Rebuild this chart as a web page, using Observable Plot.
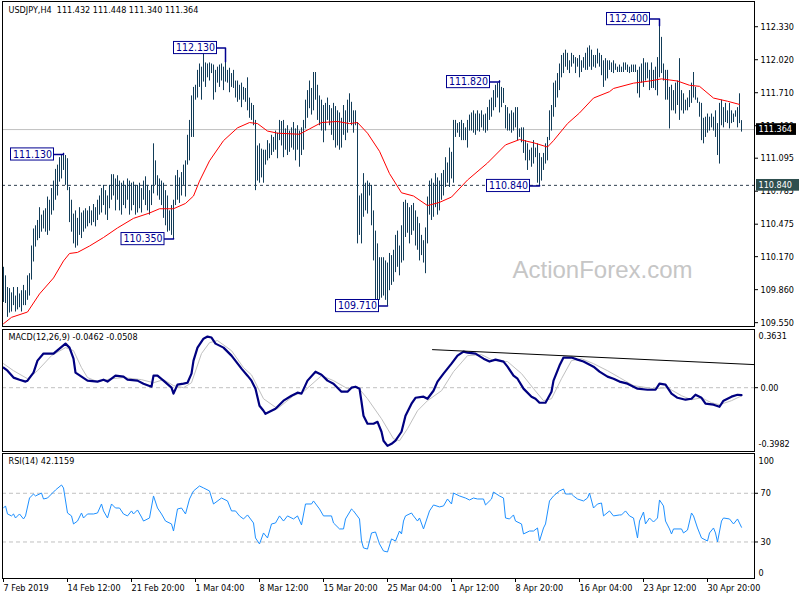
<!DOCTYPE html>
<html><head><meta charset="utf-8">
<script src="https://cdn.jsdelivr.net/npm/d3@7"></script>
<script src="https://cdn.jsdelivr.net/npm/@observablehq/plot@0.6"></script>
<style>
html,body{margin:0;padding:0;background:#fff;}
#wrap{position:relative;width:800px;height:600px;overflow:hidden;background:#fff;}
#wrap svg{position:absolute;left:0;top:0;}
</style></head><body><div id="wrap"></div>
<script>
// ---------- DATA ----------
const symbol = "USDJPY,H4";
const lastOHLC = [111.432, 111.448, 111.340, 111.364];
const lastPrice = 111.364;
const supportLevel = 110.840;

const barHigh = [
110.07,109.99,109.88,109.87,109.83,109.88,109.80,109.88,109.82,109.85,
109.90,109.85,109.99,110.01,110.27,110.43,110.46,110.51,110.63,110.56,
110.60,110.62,110.73,110.70,110.81,110.88,110.99,111.03,111.10,111.12,
111.14,111.12,111.09,110.82,110.70,110.57,110.60,110.53,110.63,110.58,
110.60,110.62,110.60,110.64,110.60,110.66,110.63,110.70,110.74,110.81,
110.84,110.79,110.74,110.84,110.94,110.94,110.90,110.93,110.88,110.86,
110.88,110.84,110.90,110.88,110.86,110.87,110.84,110.84,110.86,110.81,
110.88,110.92,110.84,110.79,110.84,111.23,111.07,110.93,110.90,110.88,
110.86,110.79,110.74,110.60,110.65,110.70,110.93,110.98,110.91,110.96,
111.03,111.07,111.31,111.45,111.68,111.76,111.78,111.92,111.98,111.95,
112.08,111.99,111.98,111.99,111.98,111.97,111.92,111.95,111.97,111.98,
111.95,112.00,111.92,111.94,111.89,111.92,111.82,111.82,111.78,111.80,
111.76,111.75,111.85,111.66,111.61,111.59,111.45,111.21,111.23,111.18,
111.17,111.17,111.26,111.23,111.31,111.29,111.35,111.33,111.45,111.44,
111.45,111.37,111.40,111.35,111.38,111.43,111.37,111.40,111.35,111.38,
111.45,111.64,111.73,111.82,111.75,111.90,111.90,111.78,111.68,111.64,
111.59,111.61,111.66,111.59,111.56,111.61,111.58,111.54,111.52,111.47,
111.59,111.54,111.64,111.70,111.62,111.54,111.54,111.43,110.74,110.76,
110.95,110.86,110.88,110.86,110.84,110.60,110.41,110.29,110.16,110.16,
110.16,110.13,110.11,110.20,110.18,110.23,110.37,110.41,110.27,110.46,
110.68,110.70,110.67,110.63,110.65,110.67,110.60,110.54,110.48,110.37,
110.32,110.44,110.73,110.88,110.90,110.86,110.95,110.91,110.88,110.95,
110.98,111.10,111.05,111.19,111.15,111.45,111.45,111.42,111.43,111.45,
111.42,111.38,111.45,111.50,111.52,111.54,111.51,111.54,111.51,111.54,
111.50,111.51,111.57,111.64,111.66,111.73,111.78,111.80,111.82,111.76,
111.75,111.59,111.57,111.51,111.54,111.52,111.57,111.57,111.37,111.38,
111.38,111.26,111.23,111.17,111.19,111.26,111.19,111.23,111.14,111.10,
111.14,111.23,111.29,111.54,111.59,111.80,111.82,111.89,111.98,112.06,
112.08,112.11,112.08,112.01,112.08,112.06,112.04,112.03,112.06,112.01,
112.04,112.08,112.13,112.15,112.11,112.06,112.06,112.12,112.08,112.06,
112.01,112.03,112.01,112.01,111.99,112.01,111.98,111.95,111.97,111.95,
111.99,111.99,111.97,111.95,111.97,111.97,111.97,111.92,111.95,111.98,
112.03,111.99,111.99,111.92,111.99,111.92,111.95,112.04,112.34,112.23,
111.98,111.92,111.92,111.76,111.78,111.73,111.80,111.82,112.03,111.73,
111.70,111.64,111.66,111.73,111.80,111.90,111.76,111.66,111.62,111.61,
111.47,111.48,111.51,111.48,111.51,111.48,111.54,111.42,111.61,111.64,
111.57,111.61,111.54,111.61,111.54,111.51,111.54,111.57,111.70,111.448];

const barLow = [
109.74,109.73,109.60,109.64,109.65,109.71,109.65,109.67,109.69,109.65,
109.71,109.71,109.76,109.80,109.95,110.12,110.26,110.32,110.34,110.40,
110.43,110.40,110.37,110.41,110.56,110.60,110.70,110.74,110.87,110.90,
110.98,110.84,110.79,110.49,110.40,110.29,110.25,110.27,110.37,110.34,
110.40,110.43,110.45,110.48,110.46,110.49,110.45,110.51,110.56,110.58,
110.65,110.56,110.51,110.62,110.70,110.74,110.60,110.70,110.60,110.56,
110.65,110.62,110.70,110.56,110.60,110.65,110.56,110.58,110.62,110.58,
110.70,110.65,110.60,110.56,110.65,110.76,110.84,110.74,110.70,110.65,
110.53,110.46,110.40,110.41,110.37,110.34,110.65,110.70,110.67,110.74,
110.84,110.73,111.03,111.07,111.29,111.29,111.64,111.66,111.76,111.64,
111.81,111.76,111.85,111.82,111.89,111.64,111.71,111.80,111.76,111.82,
111.73,111.81,111.80,111.71,111.76,111.75,111.66,111.62,111.64,111.57,
111.64,111.62,111.54,111.47,111.45,111.40,110.79,110.88,110.86,110.91,
110.86,111.03,111.07,111.09,111.12,111.15,111.17,111.09,111.26,111.21,
111.10,111.17,111.12,111.15,111.19,111.17,111.07,111.17,111.01,111.12,
111.17,111.37,111.47,111.56,111.50,111.54,111.64,111.45,111.40,111.35,
111.24,111.35,111.45,111.40,111.31,111.26,111.19,111.21,111.17,111.19,
111.31,111.26,111.33,111.43,111.40,111.33,111.40,110.29,110.37,110.29,
110.54,110.60,110.57,110.74,110.46,110.13,109.73,109.73,109.76,109.78,
109.80,109.76,109.71,109.85,109.90,109.93,110.02,110.07,109.99,110.11,
110.13,110.35,110.39,110.29,110.37,110.41,110.27,110.23,110.13,110.18,
110.11,110.01,110.29,110.56,110.51,110.54,110.63,110.56,110.60,110.70,
110.74,110.82,110.86,110.82,110.90,110.86,111.29,111.33,111.29,111.26,
111.26,111.26,111.19,111.35,111.35,111.33,111.31,111.35,111.34,111.38,
111.35,111.33,111.35,111.45,111.48,111.54,111.57,111.66,111.52,111.57,
111.61,111.37,111.35,111.35,111.33,111.35,111.38,111.26,111.29,111.24,
111.14,111.07,110.98,111.07,111.01,111.04,111.10,110.86,110.84,110.88,
110.98,111.04,111.07,111.26,111.35,111.48,111.57,111.66,111.73,111.85,
111.89,111.95,111.92,111.89,111.95,111.98,111.89,111.95,111.85,111.90,
111.94,111.92,111.92,111.95,111.92,111.95,111.94,111.98,111.95,111.87,
111.76,111.82,111.84,111.92,111.90,111.89,111.92,111.90,111.90,111.90,
111.90,111.92,111.90,111.89,111.90,111.90,111.90,111.70,111.66,111.80,
111.76,111.82,111.84,111.73,111.75,111.75,111.73,111.68,111.85,111.89,
111.82,111.64,111.64,111.37,111.54,111.54,111.51,111.59,111.45,111.54,
111.51,111.54,111.54,111.57,111.61,111.66,111.64,111.61,111.48,111.26,
111.23,111.29,111.33,111.35,111.38,111.35,111.29,111.12,111.04,111.40,
111.38,111.43,111.42,111.37,111.42,111.43,111.48,111.38,111.42,111.340];

// Moving average (red)
const maIdx = [0,4,12,18,25,30,33,37,43,50,57,65,73,78,85,91,95,98,103,110,
117,123,127,132,137,148,153,159,167,173,177,182,188,193,199,205,212,218,224,232,
242,251,258,265,272,275,282,288,295,303,305,315,323,329,337,343,348,355,362,368];
const maVal = [109.54,109.60,109.65,109.82,109.97,110.13,110.20,110.21,110.27,110.35,
110.44,110.53,110.58,110.62,110.62,110.67,110.74,110.88,111.07,111.26,
111.38,111.43,111.42,111.35,111.33,111.32,111.37,111.43,111.44,111.42,
111.43,111.33,111.16,110.95,110.77,110.74,110.65,110.68,110.73,110.89,
111.05,111.22,111.27,111.24,111.20,111.26,111.42,111.52,111.66,111.72,
111.75,111.80,111.82,111.84,111.82,111.78,111.77,111.66,111.63,111.60];

// MACD(12,26,9)
const macdIdx = [0,2,5,8,11,12,15,17,20,25,
28,31,33,35,36,39,42,47,50,52,
56,60,62,67,70,74,75,77,80,84,
85,87,90,92,94,95,97,100,102,104,
106,110,114,119,122,124,126,128,130,131,
134,136,140,144,147,149,152,156,159,162,
165,169,172,174,176,178,179,180,182,185,
187,189,190,192,194,196,199,201,204,206,
210,212,215,217,220,224,227,230,232,236,
240,243,246,250,252,255,257,260,264,266,
268,271,274,275,278,280,284,287,290,295,
298,302,305,308,312,317,322,326,328,331,
334,337,341,344,346,349,351,355,358,360,
364,367,369];
const macdVal = [0.125,0.106,0.063,0.05,0.038,0.044,0.094,0.169,0.213,0.213,
0.244,0.275,0.25,0.181,0.094,0.069,0.044,0.038,0.05,0.038,
0.075,0.069,0.05,0.044,0.025,0.006,0.075,0.075,0.044,0.0,
-0.037,0.019,0.025,0.031,0.088,0.169,0.25,0.306,0.319,0.313,
0.275,0.25,0.2,0.119,0.075,0.044,-0.006,-0.113,-0.144,-0.163,
-0.144,-0.131,-0.081,-0.05,-0.031,-0.037,0.044,0.1,0.081,0.044,
0.025,-0.025,-0.025,0.0,0.006,-0.006,-0.088,-0.175,-0.225,-0.225,
-0.213,-0.275,-0.331,-0.363,-0.35,-0.331,-0.275,-0.175,-0.1,-0.063,
-0.056,-0.069,-0.019,0.038,0.088,0.15,0.2,0.225,0.219,0.213,
0.181,0.163,0.175,0.163,0.131,0.075,0.056,-0.006,-0.056,-0.069,
-0.094,-0.094,-0.025,0.044,0.138,0.188,0.188,0.175,0.163,0.131,
0.1,0.069,0.056,0.038,0.025,-0.006,-0.013,-0.013,0.025,0.019,
-0.037,-0.063,-0.075,-0.069,-0.044,-0.063,-0.1,-0.106,-0.119,-0.081,
-0.056,-0.044,-0.0462];
const sigIdx = [0,5,12,17,24,31,35,39,42,47,
54,60,69,75,80,85,90,94,99,103,
107,114,120,124,128,130,137,145,150,159,
165,172,177,182,189,195,198,202,207,212,
219,225,232,239,245,252,259,265,270,274,
279,284,289,295,302,308,315,325,332,339,
344,349,354,358,364,369];
const sigVal = [0.15,0.106,0.056,0.106,0.2,0.25,0.231,0.125,0.063,0.038,
0.056,0.063,0.05,0.031,0.05,0.013,0.0,0.031,0.213,0.281,
0.294,0.231,0.125,0.08,-0.02,-0.069,-0.131,-0.05,-0.025,0.075,
0.044,-0.006,0.006,-0.069,-0.194,-0.319,-0.331,-0.256,-0.144,-0.081,
-0.019,0.1,0.2,0.206,0.169,0.163,0.088,-0.006,-0.081,-0.069,
0.056,0.169,0.181,0.15,0.106,0.063,0.013,-0.006,0.0,-0.05,
-0.075,-0.063,-0.094,-0.106,-0.081,-0.0508];
const macdRange = [-0.3982, 0.3631];
const macdTrendIdx = [214.5, 375.5];
const macdTrendVal = [0.2375, 0.144];

// RSI(14)
const rsiIdx = [0,1,2,4,5,6,8,10,11,13,
15,16,19,20,22,24,26,29,30,32,
34,35,37,39,40,42,45,47,49,50,
52,54,56,58,60,62,64,65,67,69,
70,73,75,77,79,81,84,85,87,89,
91,93,95,98,100,103,105,109,112,114,
116,118,120,122,125,126,128,130,132,134,
136,138,140,142,145,147,149,151,154,155,
158,160,164,165,168,170,171,174,175,178,
179,180,182,184,186,188,190,192,194,196,
198,199,200,201,204,205,207,208,210,213,
215,218,220,222,224,225,228,231,233,235,
237,240,241,244,245,248,250,251,253,255,
256,259,260,263,265,267,268,270,271,273,
275,278,280,281,284,285,287,290,292,293,
295,297,299,300,303,305,308,309,311,313,
315,316,317,318,320,321,323,325,327,328,
330,331,333,334,335,339,340,342,344,345,
347,349,352,353,355,356,357,359,360,363,
365,367,369];
const rsiVal = [57.9,59.6,53,51.4,53,49.7,53,48.9,51.4,66.1,
69.4,67.8,70.2,65.3,66.1,69.4,72.7,76.8,74.4,53.8,
51.4,44.8,47.2,53.8,49.7,53,53,53.8,61.2,55.5,
49.7,61.2,57.9,57.9,53,51.4,55.5,53,56.3,50.5,
47.2,49.7,67.8,57.9,53,47.2,44.8,39,57.1,57.9,
53,65.3,71.9,76,74.4,71.9,61.2,66.1,63.7,55.5,
55.5,51.4,48.9,52.2,45.6,33.3,28.4,37.4,33.3,44.8,
45.6,51.4,47.2,51.4,48.9,51.4,44,61.2,61.2,63.7,
57.1,51.4,51.4,45.6,40.7,40.7,48.9,57.1,55.5,48.9,
30.8,25.1,24.2,37.4,38.2,28.4,22.6,21.8,32.5,30.8,
39,36.6,47.2,51.4,53.8,51.4,47.2,49.7,40.7,55.5,
60.4,58.8,59.6,65.3,61.2,70.2,67.8,66.1,64.5,66.1,
65.3,65.3,60.4,65.3,71,67.8,66.1,49.7,48.9,52.2,
47.2,44.8,36.6,39,39,41.5,30.8,41.5,44.8,63.7,
67.8,71.9,73.5,69.4,69.4,67.8,65.3,63.7,66.1,70.2,
57.9,61.2,62,51.4,55.5,51.4,52.2,52.2,55.5,51.4,
49.7,41.5,33.3,47.2,54.6,44.8,49.7,46.4,49.7,64.5,
59.6,47.2,40.7,36.6,40.7,40.7,37.4,39.8,53.8,51.4,
41.5,33.3,30.8,37.4,41.5,37.4,30,47.2,49.7,48.9,
44.8,48.9,42.1];
const rsiLast = 42.1159;
const rsiLevels = [30, 70];

// Axes
const priceTicks = [112.330,112.020,111.710,111.400,111.095,110.785,110.475,110.170,109.860,109.550];
const tickIdx = [0,32,64,96,128,160,192,224,256,288,320,352];
const tickLabels = ["7 Feb 2019","14 Feb 12:00","21 Feb 20:00","1 Mar 04:00","8 Mar 12:00","15 Mar 20:00","25 Mar 04:00","1 Apr 12:00","8 Apr 20:00","16 Apr 04:00","23 Apr 12:00","30 Apr 20:00"];

// Annotations (swing highs / lows)
const annText  = ["111.130","110.350","112.130","109.710","111.820","110.840","112.400"];
const annIdx   = [14.5, 69.75, 96, 177, 232.5, 252.5, 312.5];
const annPrice = [111.13, 110.335, 112.13, 109.706, 111.81, 110.834, 112.402];
const annBar   = [30, 85, 111, 192, 248, 268, 328];
const annType  = ["high","low","high","low","high","low","high"];

// ---------- CHART ----------
const FONT = "'DejaVu Sans Condensed','DejaVu Sans',sans-serif";
const BAR = "#123c58";
const NAVY = "#000090";
const xDom = [-0.5, 375.5];
const base = {width: 800, height: 600, marginLeft: 2, marginRight: 46,
  style: {background: "transparent", fontFamily: FONT, fontSize: "9px", color: "black", overflow: "visible"}};

const bars = barHigh.map((h, i) => ({i, h, l: barLow[i]}));
const ma = maIdx.map((x, k) => ({x, y: maVal[k]}));
const BOX_HALF = 10.75, BOX_H = 0.057;
const boxes = annText.map((t, k) => ({t, cx: annIdx[k], p: annPrice[k]}));
const connectors = annText.flatMap((t, k) => {
  const end = annType[k] === "high" ? barHigh[annBar[k]] : barLow[annBar[k]];
  return [{k, x: annIdx[k] + BOX_HALF, y: annPrice[k]}, {k, x: annBar[k], y: annPrice[k]}, {k, x: annBar[k], y: end}];
});
const header = `${symbol}  ${lastOHLC.map(d => d.toFixed(3)).join(" ")}`;

const main = Plot.plot({...base,
  marginTop: 1, marginBottom: 274,
  x: {domain: xDom, axis: null},
  y: {domain: [109.514, 112.567], axis: null},
  marks: [
    Plot.text(["ActionForex.com"], {x: 299.5, y: 110.04, text: d => d, fontSize: 24, fontFamily: "'Liberation Sans',Arial,sans-serif", fill: "#c6c6c6"}),
    Plot.ruleY([lastPrice], {stroke: "#c0c0c0"}),
    Plot.ruleY([supportLevel], {stroke: "#2d3e4e", strokeDasharray: "3,3"}),
    Plot.ruleX(bars, {x: "i", y1: "l", y2: "h", stroke: BAR}),
    Plot.line(ma, {x: "x", y: "y", stroke: "#ff0000", strokeWidth: 1}),
    Plot.line(connectors, {x: "x", y: "y", z: "k", stroke: NAVY}),
    Plot.rect(boxes, {x1: d => d.cx - BOX_HALF, x2: d => d.cx + BOX_HALF, y1: d => d.p - BOX_H, y2: d => d.p + BOX_H, fill: "white", stroke: NAVY}),
    Plot.text(boxes, {x: "cx", y: "p", text: "t", fill: NAVY, fontSize: 10.5}),
    Plot.frame({stroke: "black"}),
    Plot.axisY(priceTicks, {anchor: "right", tickSize: 3, tickPadding: 3, tickFormat: d => d.toFixed(3), label: null}),
    Plot.rect([lastPrice], {x1: 376.5, x2: 396.5, y1: d => d - 0.055, y2: d => d + 0.055, fill: "black"}),
    Plot.text([lastPrice], {x: 377.5, y: d => d, text: d => d.toFixed(3), fill: "white", textAnchor: "start"}),
    Plot.rect([supportLevel], {x1: 376.5, x2: 398, y1: d => d - 0.055, y2: d => d + 0.055, fill: "#2f4f4f"}),
    Plot.text([supportLevel], {x: 377.5, y: d => d, text: d => d.toFixed(3), fill: "white", textAnchor: "start"}),
    Plot.text([header], {frameAnchor: "top-left", textAnchor: "start", lineAnchor: "top", dx: 6, dy: 5, text: d => d})
  ]
});

const macdLine = macdIdx.map((x, k) => ({x, y: macdVal[k]}));
const sigLine = sigIdx.map((x, k) => ({x, y: sigVal[k]}));
const trend = macdTrendIdx.map((x, k) => ({x, y: macdTrendVal[k]}));
const macdHeader = `MACD(12,26,9) ${macdVal[macdVal.length-1].toFixed(4)} ${sigVal[sigVal.length-1].toFixed(4)}`;

const macd = Plot.plot({...base,
  marginTop: 329, marginBottom: 149,
  x: {domain: xDom, axis: null},
  y: {domain: macdRange, axis: null},
  marks: [
    Plot.ruleY([0], {stroke: "#c0c0c0", strokeDasharray: "4,3"}),
    Plot.line(sigLine, {x: "x", y: "y", stroke: "#c0c0c0", strokeWidth: 1}),
    Plot.line(macdLine, {x: "x", y: "y", stroke: "#000080", strokeWidth: 2.2}),
    Plot.line(trend, {x: "x", y: "y", stroke: "black", strokeWidth: 1}),
    Plot.frame({stroke: "black"}),
    Plot.text([macdHeader], {frameAnchor: "top-left", textAnchor: "start", lineAnchor: "top", dx: 6, dy: 4, text: d => d}),
    Plot.axisY([0], {anchor: "right", tickSize: 3, tickPadding: 3, tickFormat: () => "0.00", label: null}),
    Plot.text([macdRange[1]], {x: 375.5, y: d => d, text: d => d.toFixed(4), dx: 4, dy: 7, textAnchor: "start"}),
    Plot.text([macdRange[0]], {x: 375.5, y: d => d, text: d => d.toFixed(4), dx: 4, dy: -7, textAnchor: "start"})
  ]
});

const rsiLine = rsiIdx.map((x, k) => ({x, y: rsiVal[k]}));
const rsi = Plot.plot({...base,
  marginTop: 453, marginBottom: 22,
  x: {domain: xDom, axis: null},
  y: {domain: [0, 102.67], axis: null},
  marks: [
    Plot.ruleY(rsiLevels, {stroke: "#c0c0c0", strokeDasharray: "4,3"}),
    Plot.line(rsiLine, {x: "x", y: "y", stroke: "#1e90ff", strokeWidth: 1}),
    Plot.frame({stroke: "black"}),
    Plot.text([`RSI(14) ${rsiLast.toFixed(4)}`], {frameAnchor: "top-left", textAnchor: "start", lineAnchor: "top", dx: 6, dy: 4, text: d => d}),
    Plot.axisY(rsiLevels, {anchor: "right", tickSize: 3, tickPadding: 3, label: null}),
    Plot.text([100], {x: 375.5, y: d => d, text: d => String(d), dx: 4, dy: 4, textAnchor: "start"}),
    Plot.text([0], {x: 375.5, y: d => d, text: d => String(d), dx: 4, dy: -5, textAnchor: "start"}),
    Plot.axisX(tickIdx, {anchor: "bottom", tickSize: 4, tickPadding: 2, textAnchor: "start",
      tickFormat: d => tickLabels[tickIdx.indexOf(d)], label: null})
  ]
});

const wrap = document.getElementById("wrap");
wrap.append(main, macd, rsi);
</script>
</body></html>
